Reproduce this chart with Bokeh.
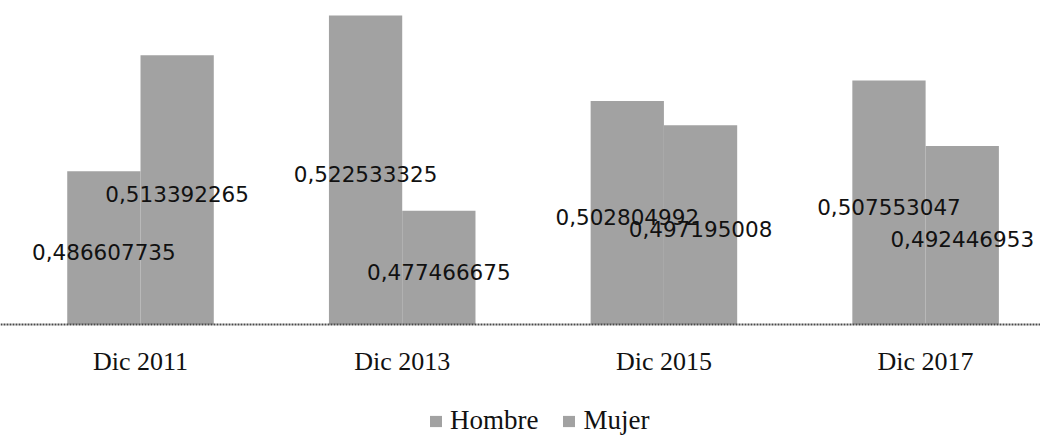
from bokeh.plotting import figure
from bokeh.models import ColumnDataSource, Range1d, FixedTicker, Legend, LegendItem
from bokeh.core.properties import value
from bokeh.embed import file_html
from bokeh.resources import INLINE

categories = ["Dic 2011", "Dic 2013", "Dic 2015", "Dic 2017"]
hombre = [0.486607735, 0.522533325, 0.502804992, 0.507553047]
mujer = [0.513392265, 0.477466675, 0.497195008, 0.492446953]
hombre_labels = ["0,486607735", "0,522533325", "0,502804992", "0,507553047"]
mujer_labels = ["0,513392265", "0,477466675", "0,497195008", "0,492446953"]

Y0, Y1 = 0.4512, 0.5260       # baseline value, top of plot
YBOT = 0.42538                # extra room below the baseline for labels/legend
BAR_W = 0.28
FILL = "#a2a2a2"

idx = list(range(len(categories)))

p = figure(frame_width=1040, frame_height=436, output_backend="svg", toolbar_location=None,
           x_range=Range1d(-0.535, 3.439), y_range=Range1d(YBOT, Y1),
           min_border_left=0, min_border_right=0, min_border_top=0, min_border_bottom=0)
p.outline_line_color = None
p.grid.visible = False
p.yaxis.visible = False

src_h = ColumnDataSource(dict(x=[i - BAR_W / 2 for i in idx], top=hombre,
                              ly=[(Y0 + v) / 2 for v in hombre], lab=hombre_labels))
src_m = ColumnDataSource(dict(x=[i + BAR_W / 2 for i in idx], top=mujer,
                              ly=[(Y0 + v) / 2 for v in mujer], lab=mujer_labels))

rh = p.vbar(x="x", top="top", bottom=Y0, width=BAR_W, source=src_h,
            fill_color=FILL, line_color=None)
rm = p.vbar(x="x", top="top", bottom=Y0, width=BAR_W, source=src_m,
            fill_color=FILL, line_color=None)

for src in (src_h, src_m):
    p.text(x="x", y="ly", text="lab", source=src, text_align="center",
           text_baseline="middle", text_font=value("DejaVu Sans"),
           text_font_size="21.5px", text_color="#111111", y_offset=4)

ax = p.xaxis[0]
ax.fixed_location = Y0
ax.ticker = FixedTicker(ticks=idx)
ax.major_label_overrides = {i: c for i, c in zip(idx, categories)}
ax.major_tick_out = 0
ax.major_tick_in = 0
ax.minor_tick_out = 0
ax.minor_tick_in = 0
ax.axis_line_color = "#4a4a4a"
ax.axis_line_width = 2
ax.axis_line_dash = "2 1"
ax.major_label_standoff = 22
ax.major_label_text_font = "Liberation Serif"
ax.major_label_text_font_size = "26px"
ax.major_label_text_color = "#111111"

legend = Legend(items=[LegendItem(label="Hombre", renderers=[rh]),
                       LegendItem(label="Mujer", renderers=[rm])],
                orientation="horizontal", location=(428, 0),
                label_text_font="Liberation Serif", label_text_font_size="27px",
                label_text_color="#111111", glyph_width=15, glyph_height=14,
                label_standoff=7, spacing=23, border_line_color=None,
                background_fill_alpha=0, padding=0, margin=0)
p.add_layout(legend, "center")

open("out.html", "w").write(file_html(p, INLINE))
